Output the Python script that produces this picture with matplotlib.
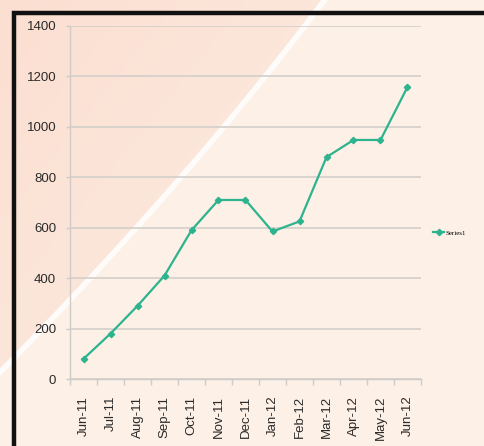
import numpy as np
import matplotlib.pyplot as plt
from matplotlib.patches import Polygon
from matplotlib.colors import LinearSegmentedColormap

months = ['Jun-11', 'Jul-11', 'Aug-11', 'Sep-11', 'Oct-11', 'Nov-11', 'Dec-11',
          'Jan-12', 'Feb-12', 'Mar-12', 'Apr-12', 'May-12', 'Jun-12']
series1 = [80, 180, 290, 410, 590, 710, 710, 585, 625, 880, 948, 948, 1158]
yticks = [0, 200, 400, 600, 800, 1000, 1200, 1400]

W, H = 484, 446
bg = '#fdf0e6'
teal = '#2db38e'

fig = plt.figure(figsize=(W / 100, H / 100), dpi=100)
fig.patch.set_facecolor(bg)

# background decoration: pinkish wedge top-left, white diagonal stroke, black frame
back = fig.add_axes([0, 0, 1, 1], zorder=-1)
back.set_xlim(0, W)
back.set_ylim(H, 0)
back.axis('off')
cy = [0, 100, 220, 373]
cx = [323, 250, 140, 0]
coef = np.polyfit(cy, cx, 2)
sy = np.linspace(-5, 420, 60)
sx = np.polyval(coef, sy)
gx = np.linspace(0, 1, 200)[None, :]
gy = np.linspace(0, 1, 200)[:, None]
g = np.clip(0.5 * gx + 0.5 * gy, 0, 1)
cmap = LinearSegmentedColormap.from_list('w', ['#fbdfd1', '#fdeee4'])
im = back.imshow(g, cmap=cmap, extent=[0, 340, 420, -5], aspect='auto', zorder=0)
poly = Polygon([(-5, -5)] + list(zip(sx, sy)), closed=True, transform=back.transData,
               facecolor='none', edgecolor='none')
back.add_patch(poly)
im.set_clip_path(poly)
back.plot(sx, sy, color='white', lw=4, alpha=0.85, zorder=1)
back.plot([14, 14, W + 5], [H + 5, 13, 13], color='#111111', lw=3.2, zorder=2,
          solid_joinstyle='miter')

ax = fig.add_axes([70 / W, (H - 379) / H, 351 / W, 353 / H])
ax.set_facecolor('none')
x = np.arange(len(months))
ax.plot(x, series1, color=teal, lw=1.6, marker='D', ms=3.2, label='Series1', zorder=3)
ax.set_xlim(-0.5, len(months) - 0.5)
ax.set_ylim(0, 1400)
ax.set_yticks(yticks)
ax.set_yticklabels([str(v) for v in yticks])
ax.yaxis.grid(True, color='#d3cfcb', lw=1.2)
ax.set_axisbelow(True)
for s in ['top', 'right']:
    ax.spines[s].set_visible(False)
for s in ['left', 'bottom']:
    ax.spines[s].set_color('#cfcbc7')
    ax.spines[s].set_linewidth(1)
ax.tick_params(axis='y', length=3, width=1, color='#cfcbc7', pad=7,
               labelsize=9.5, labelcolor='#2a2a2a')
ax.set_xticks(np.arange(len(months) + 1) - 0.5)
ax.set_xticklabels([])
ax.tick_params(axis='x', length=4, width=1, color='#cfcbc7')
ax.set_xticks(x, minor=True)
ax.set_xticklabels(months, minor=True, rotation=90, fontsize=9.5, color='#2a2a2a')
ax.tick_params(axis='x', which='minor', length=0, pad=12)
for lab in ax.get_yticklabels() + ax.get_xticklabels(minor=True):
    lab.set_family(['Liberation Sans', 'DejaVu Sans'])

ax.legend(loc='center left', bbox_to_anchor=(433 / W, 1 - 233 / H),
          bbox_transform=fig.transFigure, frameon=False, handlelength=1.6,
          handletextpad=0.2, borderpad=0, borderaxespad=0,
          prop={'family': 'Liberation Serif', 'size': 5})

fig.savefig('out.png', dpi=100, facecolor=bg)
